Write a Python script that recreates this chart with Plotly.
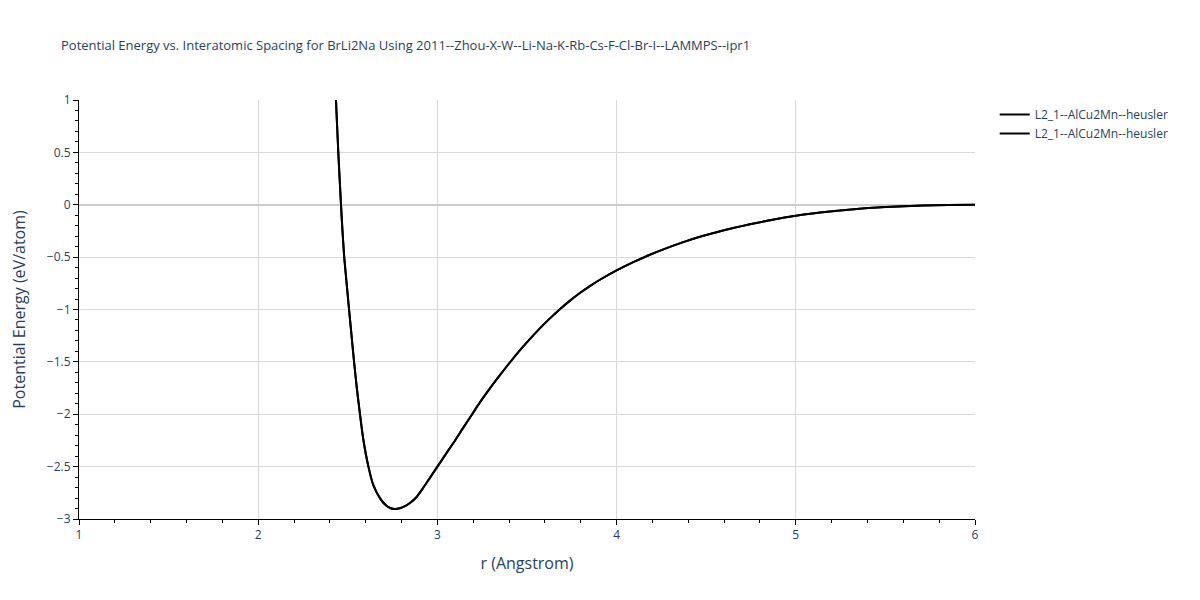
import plotly.graph_objects as go

title = "Potential Energy vs. Interatomic Spacing for BrLi2Na Using 2011--Zhou-X-W--Li-Na-K-Rb-Cs-F-Cl-Br-I--LAMMPS--ipr1"
series_names = ["L2_1--AlCu2Mn--heusler", "L2_1--AlCu2Mn--heusler"]

r_vals = [2.40, 2.42, 2.434, 2.447, 2.462, 2.47, 2.48, 2.494, 2.507, 2.521, 2.535,
          2.551, 2.568, 2.587, 2.615, 2.642, 2.68, 2.717, 2.74, 2.763, 2.79, 2.819,
          2.85, 2.884, 2.92, 2.959, 3.0, 3.045, 3.089, 3.14, 3.191, 3.24, 3.293,
          3.35, 3.405, 3.46, 3.517, 3.572, 3.628, 3.685, 3.74, 3.795, 3.851, 3.907,
          4.0, 4.093, 4.186, 4.279, 4.372, 4.465, 4.558, 4.651, 4.744, 4.87, 5.0,
          5.135, 5.247, 5.34, 5.43, 5.57, 5.71, 5.85, 6.0]
energy_vals = [2.30, 1.55, 1.0, 0.5, 0.0, -0.24, -0.5, -0.76, -1.0, -1.25, -1.5,
               -1.76, -2.0, -2.246, -2.5, -2.675, -2.803, -2.876, -2.897, -2.905, -2.898, -2.878,
               -2.843, -2.79, -2.705, -2.605, -2.5, -2.385, -2.275, -2.14, -2.007, -1.88, -1.753,
               -1.625, -1.504, -1.39, -1.28, -1.18, -1.085, -0.995, -0.915, -0.842, -0.776, -0.716,
               -0.627, -0.548, -0.477, -0.414, -0.357, -0.306, -0.262, -0.222, -0.187, -0.143, -0.105,
               -0.075, -0.054, -0.04, -0.029, -0.016, -0.007, -0.002, 0.0]

fig = go.Figure()
for name in series_names:
    fig.add_trace(go.Scatter(x=r_vals, y=energy_vals, mode="lines", name=name,
                             line=dict(color="black", width=2, shape="spline", smoothing=0.6)))

axis_common = dict(
    showgrid=True, gridcolor="#d9d9d9", gridwidth=1,
    showline=True, linecolor="black", linewidth=1,
    ticks="outside", ticklen=5, tickcolor="black",
    zeroline=True, zerolinecolor="#cccccc", zerolinewidth=2,
    tickfont=dict(size=12, color="#2a3f5f"),
    automargin=False,
)

W, H = 1184, 584
fig.update_layout(
    width=W, height=H,
    title=dict(text=title, x=53 / W, xanchor="left", y=1 - 37 / H, yanchor="middle",
               font=dict(size=13, color="#2a3f5f")),
    plot_bgcolor="white", paper_bgcolor="white",
    font=dict(family="Open Sans, verdana, arial, sans-serif", color="#2a3f5f"),
    margin=dict(l=71, r=217, t=92, b=73),
    legend=dict(x=1.022, y=1, xanchor="left", yanchor="top", font=dict(size=12)),
    xaxis=dict(range=[1, 6], dtick=1, title=dict(text="r (Angstrom)", font=dict(size=16)),
               minor=dict(dtick=0.2, ticks="outside", ticklen=3, tickcolor="black", showgrid=False),
               **axis_common),
    yaxis=dict(range=[-3, 1], dtick=0.5,
               title=dict(text="Potential Energy (eV/atom)", font=dict(size=16), standoff=29),
               minor=dict(dtick=0.1, ticks="outside", ticklen=3, tickcolor="black", showgrid=False),
               **axis_common),
)

fig.write_html("out.html")
